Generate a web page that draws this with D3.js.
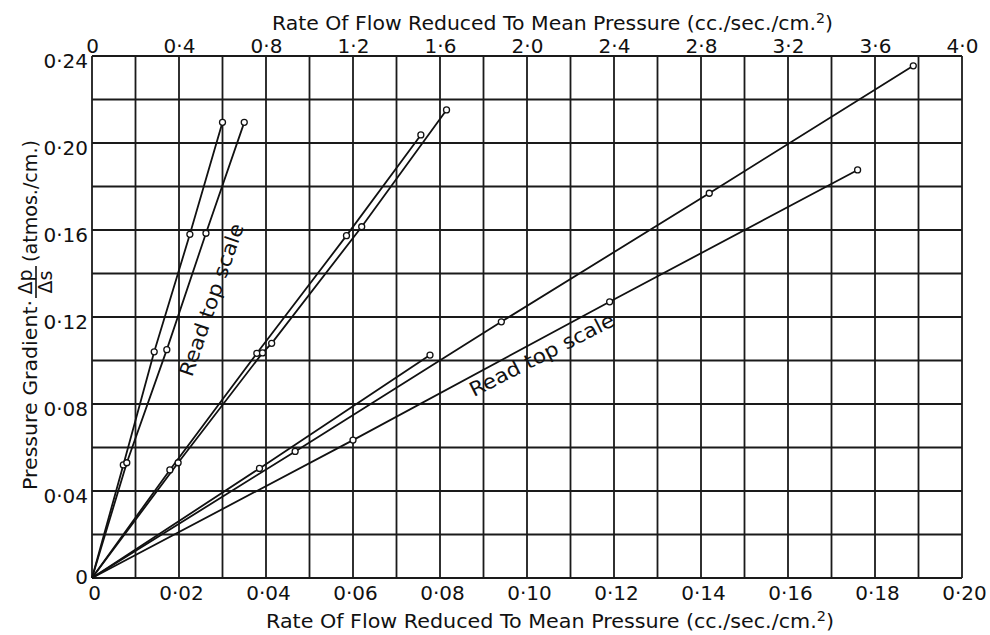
<!DOCTYPE html>
<html lang="en">
<head>
<meta charset="utf-8">
<script src="https://cdn.jsdelivr.net/npm/d3@7"></script>
<style>
  body { margin: 0; background: #fff; }
  text { font-family: "DejaVu Sans", sans-serif; fill: #111; }
</style>
</head>
<body>
<script>
var width = 990, height = 635;
var left = 92, right = 962, top_ = 56, bottom = 578;

// tick values
var xTicks    = [0, 0.02, 0.04, 0.06, 0.08, 0.10, 0.12, 0.14, 0.16, 0.18, 0.20];
var xTopTicks = [0, 0.4, 0.8, 1.2, 1.6, 2.0, 2.4, 2.8, 3.2, 3.6, 4.0];
var yTicks    = [0, 0.04, 0.08, 0.12, 0.16, 0.20, 0.24];

// series: [rate of flow, pressure gradient]
// read on bottom scale
var steep1 = [[0, 0], [0.0072, 0.052], [0.0143, 0.104], [0.0225, 0.158], [0.030, 0.2095]];
var mid1   = [[0, 0], [0.0179, 0.0497], [0.0379, 0.1033], [0.0585, 0.1574], [0.0756, 0.2037]];
var mid2   = [[0, 0], [0.0198, 0.053], [0.0392, 0.1035], [0.0413, 0.1079], [0.062, 0.1615], [0.0815, 0.2152]];
var low1   = [[0, 0], [0.0385, 0.0504], [0.0777, 0.1025]];
var low2   = [[0, 0], [0.0467, 0.0582], [0.0941, 0.1178], [0.1419, 0.1769], [0.1888, 0.2355]];
// read on top scale
var steep2 = [[0, 0], [0.16, 0.053], [0.344, 0.105], [0.524, 0.1585], [0.70, 0.2095]];
var low3   = [[0, 0], [1.20, 0.0634], [2.38, 0.127], [3.52, 0.1876]];

var svg = d3.select("body").append("svg")
    .attr("width", width)
    .attr("height", height);

var x    = d3.scaleLinear().domain([0, 0.20]).range([left, right]);
var xTop = d3.scaleLinear().domain([0, 4.0]).range([left, right]);
var y    = d3.scaleLinear().domain([0, 0.24]).range([bottom, top_]);

function fmt(d) {
    if (d === 0) return "0";
    return d3.format(".2f")(d).replace(".", "\u00b7");
}
function fmtTop(d) {
    if (d === 0) return "0";
    return d3.format(".1f")(d).replace(".", "\u00b7");
}

// grid
var grid = svg.append("g").attr("stroke", "#1a1a1a").attr("stroke-width", 1.8);
grid.selectAll(".v").data(x.ticks(20)).enter().append("line")
    .attr("x1", d => x(d)).attr("x2", d => x(d))
    .attr("y1", top_).attr("y2", bottom);
grid.selectAll(".h").data(y.ticks(12)).enter().append("line")
    .attr("x1", left).attr("x2", right)
    .attr("y1", d => y(d)).attr("y2", d => y(d));

// axes (labels only)
var axB = svg.append("g").attr("transform", "translate(0," + bottom + ")")
    .call(d3.axisBottom(x).tickValues(xTicks).tickFormat(fmt).tickSize(0).tickPadding(8));
var axT = svg.append("g").attr("transform", "translate(0," + top_ + ")")
    .call(d3.axisTop(xTop).tickValues(xTopTicks).tickFormat(fmtTop).tickSize(0).tickPadding(3));
var axL = svg.append("g").attr("transform", "translate(" + left + ",0)")
    .call(d3.axisLeft(y).tickValues(yTicks).tickFormat(fmt).tickSize(0).tickPadding(4));
[axB, axT, axL].forEach(function (a) {
    a.select(".domain").remove();
    a.selectAll("text").attr("font-family", "DejaVu Sans").attr("font-size", 20).attr("fill", "#111");
});
axB.selectAll("text").attr("x", 2);
axL.selectAll("text").attr("dy", d => d === 0 ? "0.28em" : "0.55em");

// data lines
var line = d3.line().x(d => x(d[0])).y(d => y(d[1]));
var lineTop = d3.line().x(d => xTop(d[0])).y(d => y(d[1]));

var bottomSeries = [steep1, mid1, mid2, low1, low2];
var topSeries = [steep2, low3];

svg.append("g").selectAll("path").data(bottomSeries).enter().append("path")
    .attr("d", line).attr("fill", "none").attr("stroke", "#111").attr("stroke-width", 1.8);
svg.append("g").selectAll("path").data(topSeries).enter().append("path")
    .attr("d", lineTop).attr("fill", "none").attr("stroke", "#111").attr("stroke-width", 1.8);

// points (skip origin)
var pts = [];
bottomSeries.forEach(s => s.slice(1).forEach(d => pts.push([x(d[0]), y(d[1])])));
topSeries.forEach(s => s.slice(1).forEach(d => pts.push([xTop(d[0]), y(d[1])])));
svg.append("g").selectAll("circle").data(pts).enter().append("circle")
    .attr("cx", d => d[0]).attr("cy", d => d[1]).attr("r", 3)
    .attr("fill", "#fff").attr("stroke", "#111").attr("stroke-width", 1.3);

// titles
function title(yPos, x0, len) {
    var t = svg.append("text")
        .attr("x", x0).attr("y", yPos)
        .attr("font-size", 20)
        .attr("textLength", len).attr("lengthAdjust", "spacingAndGlyphs");
    t.append("tspan").text("Rate  Of  Flow  Reduced  To  Mean  Pressure  (cc./sec./cm.");
    t.append("tspan").attr("dy", -7).attr("font-size", 14).text("2");
    t.append("tspan").attr("dy", 7).text(")");
}
title(30, 272, 561);
title(628, 266, 568);

// y title
var yt = svg.append("g").attr("transform", "translate(37,0) rotate(-90)");
yt.append("text").attr("x", -490).attr("y", 0).attr("font-size", 20)
    .attr("textLength", 190).attr("lengthAdjust", "spacingAndGlyphs")
    .text("Pressure  Gradient\u00b7");
yt.append("text").attr("x", -282).attr("y", -5).attr("font-size", 19)
    .attr("text-anchor", "middle").text("\u0394p");
yt.append("line").attr("x1", -298).attr("x2", -266).attr("y1", -1).attr("y2", -1)
    .attr("stroke", "#111").attr("stroke-width", 1.6);
yt.append("text").attr("x", -282).attr("y", 15).attr("font-size", 19)
    .attr("text-anchor", "middle").text("\u0394s");
yt.append("text").attr("x", -262).attr("y", 0).attr("font-size", 20)
    .attr("textLength", 122).attr("lengthAdjust", "spacingAndGlyphs")
    .text("(atmos./cm.)");

// "Read top scale" notes
function note(cx, cy, ang) {
    svg.append("text")
        .attr("transform", "translate(" + cx + "," + cy + ") rotate(" + ang + ")")
        .attr("text-anchor", "middle").attr("font-size", 20)
        .attr("textLength", 160).attr("lengthAdjust", "spacingAndGlyphs")
        .text("Read  top  scale");
}
note(218, 302, -71);
note(545, 361, -27);
</script>
</body>
</html>
